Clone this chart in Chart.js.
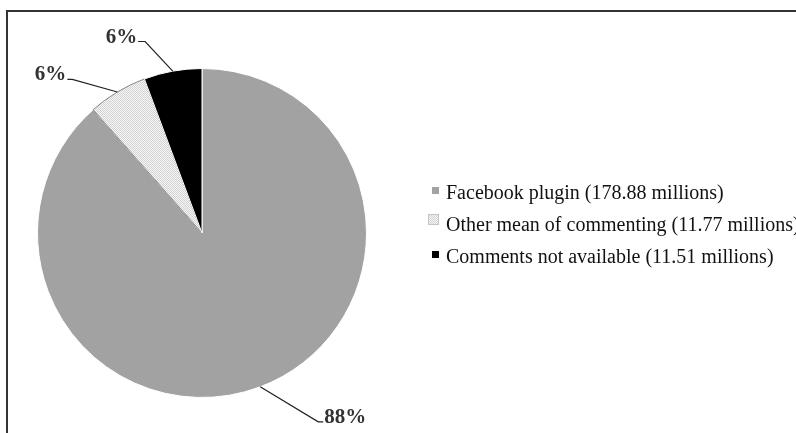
<!DOCTYPE html>
<html>
<head>
<meta charset="utf-8">
<script src="https://cdn.jsdelivr.net/npm/chart.js@4.4.0/dist/chart.umd.min.js"></script>
<style>
  html, body { margin: 0; padding: 0; background: #fff; }
  #wrap { position: relative; width: 796px; height: 433px; overflow: hidden; }
</style>
</head>
<body>
<div id="wrap"><canvas id="c"></canvas></div>
<script>
const categories = [
  'Facebook plugin (178.88 millions)',
  'Other mean of commenting (11.77 millions)',
  'Comments not available (11.51 millions)'
];
const values = [178.88, 11.77, 11.51];

function makeDotPattern() {
  const p = document.createElement('canvas');
  p.width = 2; p.height = 2;
  const g = p.getContext('2d');
  g.fillStyle = '#f7f7f7'; g.fillRect(0, 0, 2, 2);
  g.fillStyle = '#d2d2d2'; g.fillRect(0, 0, 1, 1); g.fillRect(1, 1, 1, 1);
  return document.getElementById('c').getContext('2d').createPattern(p, 'repeat');
}
const dots = makeDotPattern();
const fills = ['#a2a2a2', dots, '#000000'];

const framePlugin = {
  id: 'frame',
  beforeDraw(chart) {
    const ctx = chart.ctx;
    ctx.save();
    ctx.fillStyle = '#fff';
    ctx.fillRect(0, 0, chart.width, chart.height);
    ctx.strokeStyle = '#333';
    ctx.lineWidth = 2;
    ctx.strokeRect(7, 11, 900, 600);
    ctx.restore();
  }
};

const labelPlugin = {
  id: 'pctLabels',
  afterDatasetsDraw(chart) {
    const ctx = chart.ctx;
    const meta = chart.getDatasetMeta(0);
    const total = values.reduce((a, b) => a + b, 0);
    // leader offsets: [elbow dx, elbow dy, horizontal run dx]
    const leaders = [[58, 35, 5], [-45, -12.6, -5], [-27.6, -29.6, -7]];
    ctx.save();
    ctx.strokeStyle = '#222';
    ctx.lineWidth = 1.2;
    ctx.fillStyle = '#333';
    ctx.font = 'bold 21px "Liberation Serif", "Times New Roman", serif';
    ctx.textBaseline = 'alphabetic';
    meta.data.forEach((arc, i) => {
      const p = arc.getProps(['x', 'y', 'startAngle', 'endAngle', 'outerRadius'], true);
      const mid = (p.startAngle + p.endAngle) / 2;
      const px = p.x + Math.cos(mid) * p.outerRadius;
      const py = p.y + Math.sin(mid) * p.outerRadius;
      const [dx, dy, run] = leaders[i];
      const ex = px + dx, ey = py + dy;
      const hx = ex + run;
      ctx.beginPath();
      ctx.moveTo(px, py);
      ctx.lineTo(ex, ey);
      ctx.lineTo(hx, ey);
      ctx.stroke();
      const txt = Math.round(values[i] / total * 100) + '%';
      if (run > 0) { ctx.textAlign = 'left'; ctx.fillText(txt, hx + 1, ey + 1); }
      else { ctx.textAlign = 'right'; ctx.fillText(txt, hx - 1, ey + 1); }
    });
    ctx.restore();
  }
};

const legendPlugin = {
  id: 'sideLegend',
  afterDraw(chart) {
    const ctx = chart.ctx;
    ctx.save();
    ctx.font = '20px "Liberation Serif", "Times New Roman", serif';
    ctx.fillStyle = '#111';
    ctx.textAlign = 'left';
    ctx.textBaseline = 'alphabetic';
    const baseY = 199, step = 32, textX = 446;
    categories.forEach((lab, i) => {
      const y = baseY + i * step;
      if (i === 1) {
        ctx.fillStyle = dots;
        ctx.fillRect(428.5, y - 16.5, 10, 10);
        ctx.strokeStyle = '#999';
        ctx.lineWidth = 1;
        ctx.setLineDash([1, 1]);
        ctx.strokeRect(428.5, y - 16.5, 10, 10);
        ctx.setLineDash([]);
      } else {
        ctx.fillStyle = fills[i];
        ctx.fillRect(432, y - 12, 7, 7);
      }
      ctx.fillStyle = '#111';
      ctx.fillText(lab, textX, y);
    });
    ctx.restore();
  }
};

new Chart(document.getElementById('c'), {
  type: 'pie',
  data: {
    labels: categories,
    datasets: [{
      data: values,
      backgroundColor: fills,
      borderColor: ['#ffffff', '#888888', '#ffffff'],
      borderWidth: 1
    }]
  },
  options: {
    responsive: true,
    maintainAspectRatio: false,
    animation: false,
    layout: { padding: { left: 37, top: 68, right: 429, bottom: 35 } },
    plugins: {
      legend: { display: false },
      tooltip: { enabled: false },
      title: { display: false }
    }
  },
  plugins: [framePlugin, labelPlugin, legendPlugin]
});
</script>
</body>
</html>
